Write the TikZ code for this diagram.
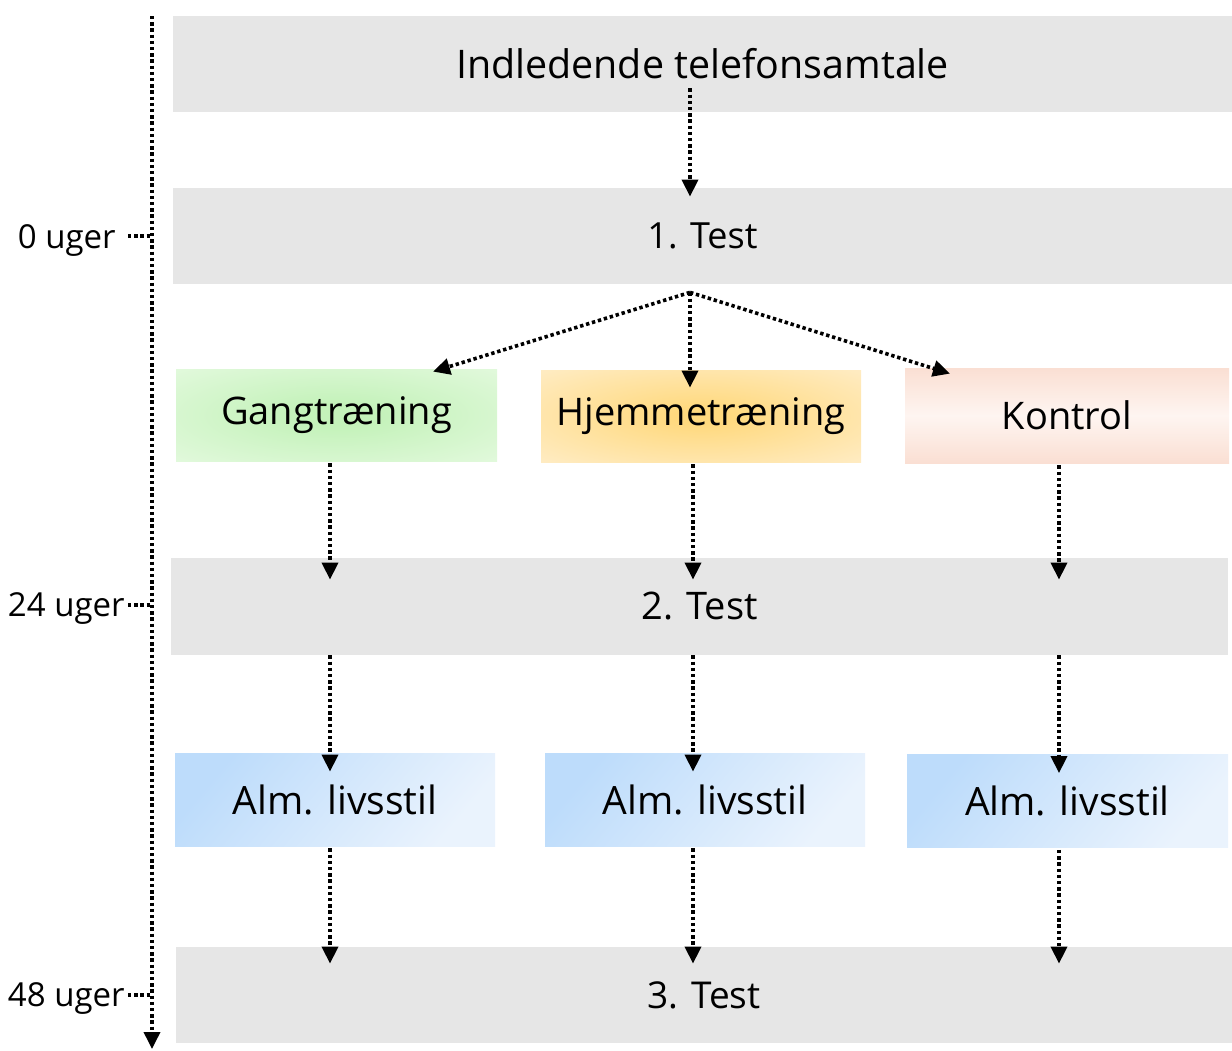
\documentclass[tikz,border=0pt]{standalone}
\usepackage{fontspec}
\setmainfont{Open Sans}
\usetikzlibrary{arrows.meta,calc}
\definecolor{boxgray}{HTML}{E6E6E6}
\definecolor{greenin}{HTML}{C4F2BA}
\definecolor{greenout}{HTML}{EEFCEA}
\definecolor{orangein}{HTML}{FFD97E}
\definecolor{orangeout}{HTML}{FFF2DA}
\definecolor{peachedge}{HTML}{FADFD3}
\definecolor{peachmid}{HTML}{FEF5F1}
\definecolor{bluedark}{HTML}{BDDCFB}
\definecolor{bluelight}{HTML}{EAF3FD}
\pgfdeclareradialshading{greensoft}{\pgfpoint{0bp}{0bp}}{color(0bp)=(greenin); color(6bp)=(greenin); color(48bp)=(greenout); color(72bp)=(greenout)}
\pgfdeclareradialshading{orangesoft}{\pgfpoint{0bp}{0bp}}{color(0bp)=(orangein); color(4bp)=(orangein); color(46bp)=(orangeout); color(72bp)=(orangeout)}
\tikzset{
  graybox/.style={fill=boxgray, inner sep=0pt, font=\fontsize{18}{20}\selectfont},
  groupbox/.style={inner sep=0pt, minimum height=46pt, font=\fontsize{19}{22}\selectfont},
  almbox/.style={inner sep=0pt, minimum width=160pt, minimum height=46.5pt,
     top color=bluedark, bottom color=bluelight, shading angle=50,
     font=\fontsize{19.5}{22}\selectfont},
  dots/.style={line width=1.8pt, dash pattern=on 1.7pt off 1.4pt},
  arr/.style={dots, -{Triangle[width=8pt,length=8.5pt]}},
  weeklbl/.style={inner sep=0pt, anchor=east, font=\fontsize{16.5}{18}\selectfont},
}
\begin{document}
\begin{tikzpicture}[x=0.5pt,y=-0.5pt]
\useasboundingbox (0,0) rectangle (1232,1050);
% gray rows
\node[graybox, minimum width=529.5pt, minimum height=48pt, font=\fontsize{19.7}{22}\selectfont] (intro) at (702.5,64) {Indledende telefonsamtale};
\node[graybox, minimum width=529.5pt, minimum height=48pt] (test1) at (702.5,236) {1. Test};
\node[graybox, minimum width=528.5pt, minimum height=48.5pt, font=\fontsize{19}{21}\selectfont] (test2) at (699.5,606.5) {2. Test};
\node[graybox, minimum width=528pt, minimum height=48pt, font=\fontsize{18.5}{21}\selectfont] (test3) at (704,995) {3. Test};
% group boxes
\node[groupbox, minimum width=160.5pt, shading=greensoft] (gang) at (336.5,415) {Gangtræning};
\node[groupbox, minimum width=160pt, shading=orangesoft] (hjem) at (701,416) {Hjemmetræning};
\node[groupbox, minimum width=162pt, minimum height=47.5pt, top color=peachedge, bottom color=peachedge, middle color=peachmid] (kontrol) at (1067,415.5) {Kontrol};
% lifestyle boxes
\node[almbox] (alm1) at (335,799.5) {Alm. livsstil};
\node[almbox] (alm2) at (705,799.5) {Alm. livsstil};
\node[almbox, minimum width=160.5pt] (alm3) at (1067.5,801) {Alm. livsstil};
% column coordinates
\coordinate (c0) at (690,0);
\coordinate (c1) at (330,0);
\coordinate (c2) at (693,0);
\coordinate (c3) at (1059,0);
% arrows
\draw[arr] ([yshift=12pt]intro.south -| c0) -- ([yshift=-4.5pt]test1.north -| c0);
\coordinate (split) at ([yshift=-4pt]test1.south -| c0);
\coordinate (gl) at (433,0);
\coordinate (kr) at (950,0);
\draw[arr] (split) -- ([yshift=-1.5pt]gang.north -| gl);
\draw[arr] (split) -- ([yshift=-9pt]hjem.north -| c0);
\draw[arr] (split) -- ([yshift=-3pt]kontrol.north -| kr);
\foreach \c/\g/\a in {c1/gang/alm1, c2/hjem/alm2, c3/kontrol/alm3}{
  \draw[arr] ([yshift=-1pt]\g.south -| \c) -- ([yshift=-11pt]test2.north -| \c);
  \draw[arr] (test2.south -| \c) -- ([yshift=-9.5pt]\a.north -| \c);
  \draw[arr] ([yshift=-1pt]\a.south -| \c) -- ([yshift=-8.5pt]test3.north -| \c);
}
% timeline
\coordinate (tltop) at (152,16);
\coordinate (tlbot) at (152,1049);
\draw[arr] (tltop) -- (tlbot);
\node[weeklbl] (w0) at (116,240) {0 uger};
\node[weeklbl] (w24) at (125,609) {24 uger};
\node[weeklbl] (w48) at (125,999) {48 uger};
\draw[dots] ([xshift=6pt,yshift=2pt]w0.east) -- ([yshift=2pt]w0.east -| tltop);
\draw[dots] ([xshift=1.5pt,yshift=2pt]w24.east) -- ([yshift=2pt]w24.east -| tltop);
\draw[dots] ([xshift=1.5pt,yshift=2pt]w48.east) -- ([yshift=2pt]w48.east -| tltop);
\end{tikzpicture}
\end{document}
